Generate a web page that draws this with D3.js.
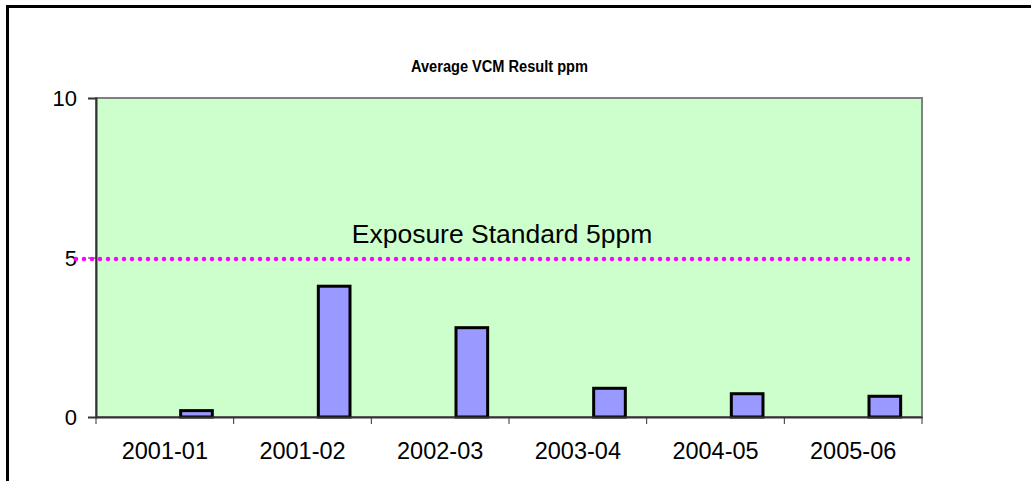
<!DOCTYPE html>
<meta charset="utf-8">
<style>
    body { margin: 0; background: #fff; }
    text { font-family: Arial, "Liberation Sans", sans-serif; fill: #000; }
    .title { font-size: 16px; font-weight: bold; }
    .tick text { font-size: 22px; }
</style>
<body>
<script src="https://cdn.jsdelivr.net/npm/d3@7"></script>
<div id="chart"></div>
<script>
    // data
    var years = ["2001-01", "2001-02", "2002-03", "2003-04", "2004-05", "2005-06"];
    var vcmAverage = [0.2, 4.1, 2.8, 0.9, 0.73, 0.65];
    var yTicks = [0, 5, 10];
    var exposureStandard = 5;
    var exposureLabel = "Exposure Standard 5ppm";
    var chartTitle = "Average VCM Result ppm";

    var width = 1031, height = 481;
    var plot = {left: 96, right: 922, top: 98, bottom: 417};

    var svg = d3.select("#chart").append("svg")
        .attr("width", width)
        .attr("height", height);

    // outer frame (top and left only are visible)
    svg.append("path")
        .attr("d", "M7.5," + height + "V6.5H" + width)
        .attr("fill", "none")
        .attr("stroke", "#000")
        .attr("stroke-width", 3);

    var x = d3.scaleBand()
        .domain(years)
        .range([plot.left, plot.right]);

    // three bar slots per category, the data sits in the last one
    var slot = d3.scaleBand()
        .domain([0, 1, 2])
        .range([0, x.bandwidth()])
        .paddingOuter(0.674);

    var y = d3.scaleLinear()
        .domain([0, 10])
        .range([plot.bottom, plot.top]);

    // plot background
    svg.append("rect")
        .attr("x", plot.left)
        .attr("y", plot.top)
        .attr("width", plot.right - plot.left)
        .attr("height", plot.bottom - plot.top)
        .attr("fill", "#ccffcc")
        .attr("stroke", "#808080")
        .attr("stroke-width", 2);

    svg.append("text")
        .attr("class", "title")
        .attr("x", 499.5)
        .attr("y", 72)
        .attr("text-anchor", "middle")
        .attr("textLength", 177)
        .attr("lengthAdjust", "spacingAndGlyphs")
        .text(chartTitle);

    // bars
    svg.append("g")
        .selectAll("rect")
        .data(vcmAverage)
        .enter().append("rect")
        .attr("x", function(d, i) { return x(years[i]) + slot(2); })
        .attr("y", function(d) { return y(d); })
        .attr("width", slot.bandwidth())
        .attr("height", function(d) { return y(0) - y(d); })
        .attr("fill", "#9999ff")
        .attr("stroke", "#000")
        .attr("stroke-width", 3);

    // axes
    var yAxis = svg.append("g")
        .attr("transform", "translate(" + plot.left + ",0)")
        .call(d3.axisLeft(y).tickValues(yTicks).tickSize(8).tickPadding(11));
    yAxis.select(".domain").attr("stroke", "#333").attr("stroke-width", 2);
    yAxis.selectAll(".tick line").attr("stroke", "#333");
    yAxis.selectAll(".tick text").attr("dy", "0.36em");

    var xAxis = svg.append("g")
        .attr("transform", "translate(0," + plot.bottom + ")")
        .call(d3.axisBottom(x).tickSize(0).tickPadding(34));
    xAxis.select(".domain").attr("stroke", "#333").attr("stroke-width", 2);
    xAxis.selectAll(".tick text").attr("dy", "0.36em").style("font-size", "23.5px");

    // category separators
    svg.append("g")
        .selectAll("line")
        .data(years.concat([null]))
        .enter().append("line")
        .attr("x1", function(d, i) { return plot.left + i * x.step(); })
        .attr("x2", function(d, i) { return plot.left + i * x.step(); })
        .attr("y1", plot.bottom)
        .attr("y2", plot.bottom + 7)
        .attr("stroke", "#333");

    // exposure standard dotted line
    svg.append("line")
        .attr("x1", x.range()[0] - 20)
        .attr("x2", x.range()[1] - 12)
        .attr("y1", y(exposureStandard) + 1.5)
        .attr("y2", y(exposureStandard) + 1.5)
        .attr("stroke", "#ff00ff")
        .attr("stroke-width", 4.5)
        .attr("stroke-linecap", "round")
        .attr("stroke-dasharray", "0 8");

    svg.append("text")
        .attr("x", 502)
        .attr("y", y(exposureStandard) - 15)
        .attr("text-anchor", "middle")
        .style("font-size", "26.5px")
        .text(exposureLabel);
</script>
</body>
